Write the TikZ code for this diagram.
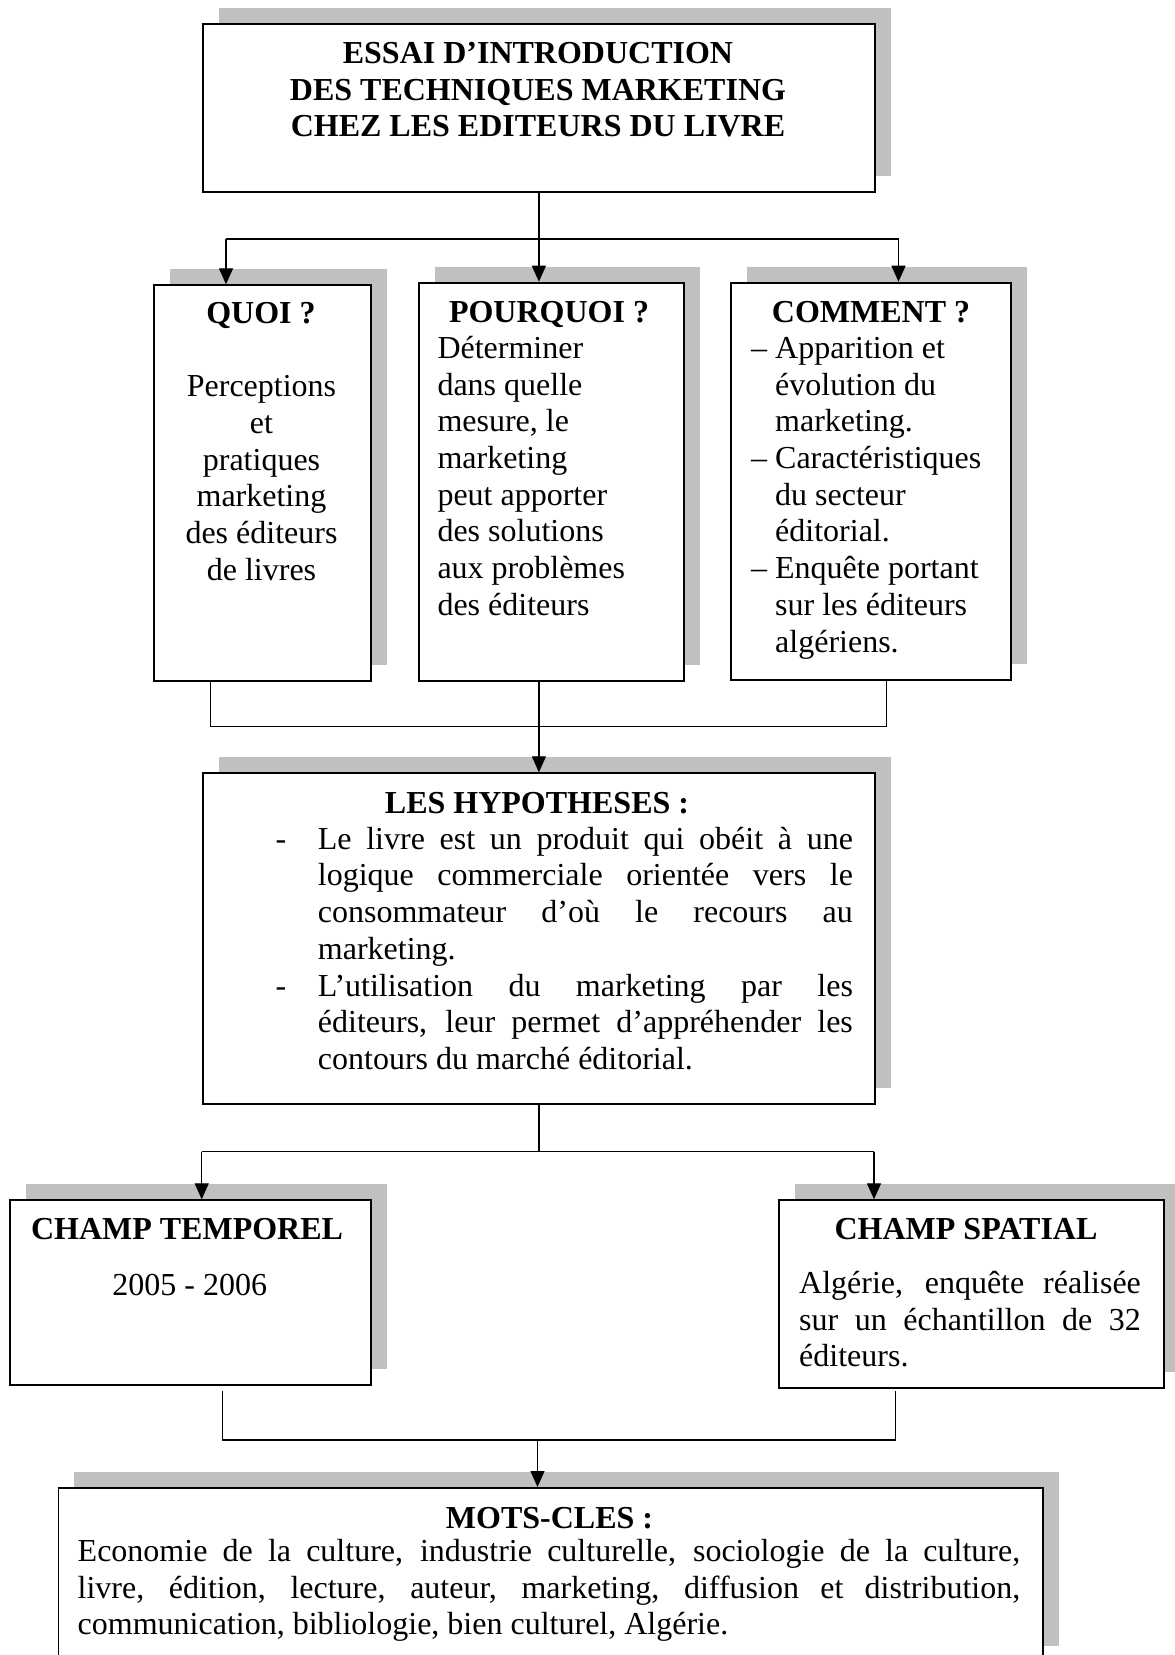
\documentclass[tikz,border=0pt]{standalone}
\usepackage{fontspec}
\setmainfont{Liberation Serif}
\usetikzlibrary{arrows.meta,shadows}
\definecolor{shadowgray}{RGB}{192,192,192}
\newcommand\diagfont{\fontsize{32}{36.7}\selectfont}

\begin{document}
\begin{tikzpicture}[x=1pt,y=-1pt,
  panel/.style={draw, line width=1.8pt, fill=white, inner sep=0pt, anchor=north west,
    drop shadow={shadow xshift=16pt, shadow yshift=16pt, fill=shadowgray, opacity=1}},
  head/.style={font=\diagfont\bfseries, inner sep=0pt, anchor=base},
  plain/.style={font=\diagfont, inner sep=0pt, anchor=base},
  body/.style={font=\diagfont, inner sep=0pt, anchor=north west, align=left},
  cbody/.style={font=\diagfont, inner sep=0pt, anchor=north, align=center},
  conn/.style={line width=1.3pt},
  arr/.style={conn, -{Triangle[length=16pt,width=14pt]}}]

\path[use as bounding box, fill=white] (0,0) rectangle (1175,1655);

% boxes
\node[panel, minimum width=672pt, minimum height=168pt] (title) at (202,23) {};
\node[panel, minimum width=216.7pt, minimum height=395.7pt] (quoi) at (153.3,284.3) {};
\node[panel, minimum width=264.7pt, minimum height=398.3pt] (pourquoi) at (418,281.7) {};
\node[panel, minimum width=280pt, minimum height=397.6pt] (comment) at (730,281.7) {};
\node[panel, minimum width=672pt, minimum height=331pt] (hyp) at (202,772.3) {};
\node[panel, minimum width=360.7pt, minimum height=184.7pt] (temp) at (9.3,1199.3) {};
\node[panel, minimum width=385pt, minimum height=188pt] (spatial) at (777.7,1199.3) {};
\node[panel, minimum width=984.5pt, minimum height=174pt] (mots) at (57.5,1487) {};

% title
\node[cbody, font=\diagfont\bfseries] (title-text) at (538,37.6)
  {\strut ESSAI D’INTRODUCTION\\DES TECHNIQUES MARKETING\\CHEZ LES EDITEURS DU LIVRE};

% QUOI
\node[head] (quoi-head) at (261,323.5) {QUOI ?};
\node[cbody] (quoi-text) at (261.5,371)
  {\strut Perceptions\\et\\pratiques\\marketing\\des éditeurs\\de livres};

% POURQUOI
\node[head] (pourquoi-head) at (549,322.7) {POURQUOI ?};
\node[body] (pourquoi-text) at (437.3,332.6)
  {\strut Déterminer\\dans quelle\\mesure, le\\marketing\\peut apporter\\des solutions\\aux problèmes\\des éditeurs};

% COMMENT
\node[head] (comment-head) at (871,322.7) {COMMENT ?};
\node[body] (comment-text) at (775,332.6)
  {\strut\llap{– }Apparition et\\évolution du\\marketing.\\ \llap{– }Caractéristiques\\du secteur\\éditorial.\\ \llap{– }Enquête portant\\sur les éditeurs\\algériens.};

% hypotheses
\node[head] (hyp-head) at (537,813) {LES HYPOTHESES :};
\node[body] (hyp-text) at (317.7,823.3)
  {\strut\llap{-\hspace{31.5pt}}\makebox[535pt][s]{Le livre est un produit qui obéit à une}\\
   \makebox[535pt][s]{logique commerciale orientée vers le}\\
   \makebox[535pt][s]{consommateur d’où le recours au}\\
   marketing.\\
   \llap{-\hspace{31.5pt}}\makebox[535pt][s]{L’utilisation du marketing par les}\\
   \makebox[535pt][s]{éditeurs, leur permet d’appréhender les}\\
   contours du marché éditorial.};

% champ temporel
\node[head] (temp-head) at (187,1239.3) {CHAMP TEMPOREL};
\node[plain] (temp-text) at (189.7,1295) {2005 - 2006};

% champ spatial
\node[head] (spatial-head) at (966,1239.3) {CHAMP SPATIAL};
\node[body] (spatial-text) at (799,1267.6)
  {\strut\makebox[341.7pt][s]{Algérie, enquête réalisée}\\
   \makebox[341.7pt][s]{sur un échantillon de 32}\\
   éditeurs.};

% mots-cles
\node[head] (mots-head) at (549.5,1528) {MOTS-CLES :};
\node[body] (mots-text) at (77.5,1535.6)
  {\strut\makebox[942.5pt][s]{Economie de la culture, industrie culturelle, sociologie de la culture,}\\
   \makebox[942.5pt][s]{livre, édition, lecture, auteur, marketing, diffusion et distribution,}\\
   communication, bibliologie, bien culturel, Algérie.};

% connectors: title to the three questions
\coordinate (splitL) at (226,239);
\coordinate (splitR) at (898.5,239);
\draw[conn] (splitL) -- (splitR);
\draw[arr] (title.south) -- (title.south |- pourquoi.north);
\draw[arr] (splitL) -- (splitL |- quoi.north);
\draw[arr] (splitR) -- (splitR |- comment.north);

% questions to hypotheses
\coordinate (joinL) at (210.5,726.7);
\coordinate (joinR) at (886.7,726.7);
\draw[conn] (quoi.south -| joinL) -- (joinL) -- (joinR) -- (comment.south -| joinR);
\draw[arr] (hyp.north |- pourquoi.south) -- (hyp.north);

% hypotheses to the two fields
\coordinate (fieldL) at (201.7,1151.7);
\coordinate (fieldR) at (874,1151.7);
\draw[conn] (hyp.south) -- (hyp.south |- fieldL);
\draw[conn] (fieldL) -- (fieldR);
\draw[arr] (fieldL) -- (fieldL |- temp.north);
\draw[arr] (fieldR) -- (fieldR |- spatial.north);

% fields to keywords
\coordinate (lowL) at (222.7,1391);
\coordinate (lowR) at (895.3,1391);
\coordinate (lowM) at (537.5,1440);
\draw[conn] (lowL) |- (lowM) -| (lowR);
\draw[arr] (lowM) -- (lowM |- mots.north);
\end{tikzpicture}
\end{document}
